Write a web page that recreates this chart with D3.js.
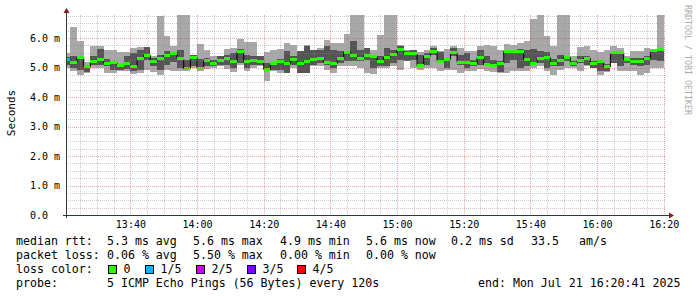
<!DOCTYPE html>
<html>
<head>
<meta charset="utf-8">
<script src="https://cdn.jsdelivr.net/npm/d3@7"></script>
<style>
body { margin: 0; background: #fff; }
svg text { font-family: "DejaVu Sans Mono", monospace; fill: #000; }
</style>
</head>
<body>
<svg id="chart" width="697" height="297"></svg>
<script>

// five pings per step, sorted: pingMin <= pingLow <= median <= pingHigh <= pingMax (ms)
var pingMin = [4.98,4.87,4.76,4.80,5.00,5.00,4.83,4.82,4.87,4.87,4.78,4.81,4.93,4.84,4.76,4.93,4.87,4.87,4.87,4.98,
  4.87,4.95,5.00,5.04,4.95,4.84,5.10,4.87,4.98,5.04,4.53,4.87,4.81,4.80,5.00,4.81,4.81,5.04,5.04,4.93,
  4.81,5.04,5.04,5.04,5.00,4.81,4.78,4.98,4.98,5.04,4.93,5.21,4.98,4.93,4.98,4.98,4.87,4.93,4.93,4.81,
  4.87,4.87,4.95,4.87,4.85,4.81,4.81,4.87,4.87,4.87,4.98,5.04,4.87,4.76,4.93,4.98,4.98,4.87,5.04,4.98,
  4.76,4.84,5.15,4.87,4.87,4.87,4.76,4.81,4.98,4.98];
var pingLow = [5.10,5.00,4.90,4.85,5.10,5.10,5.05,4.90,4.90,4.95,4.87,4.93,5.27,5.04,4.93,5.10,5.20,4.98,4.93,5.04,
  4.93,5.04,5.05,5.10,5.10,4.98,5.15,4.98,5.10,5.10,4.87,4.93,4.93,4.81,5.10,4.82,4.82,5.10,5.15,5.10,
  4.98,5.15,5.21,5.21,5.21,5.27,4.98,5.04,5.04,5.15,5.27,5.22,5.27,5.04,5.10,5.43,5.15,5.00,5.38,5.10,
  4.98,5.04,5.10,5.04,5.04,4.84,5.15,5.27,4.98,5.04,5.10,5.15,4.98,5.04,5.04,5.21,5.04,5.15,5.10,4.99,
  4.87,4.87,5.16,5.04,5.15,5.10,5.04,5.10,5.27,5.21];
var median = [5.27,5.18,5.35,5.03,5.20,5.28,5.15,5.16,5.06,5.12,5.04,5.29,5.41,5.19,5.31,5.41,5.49,5.29,4.96,5.35,
  4.98,5.23,5.15,5.23,5.31,5.19,5.54,5.19,5.24,5.19,4.93,5.15,5.19,5.15,5.27,5.15,5.21,5.27,5.31,5.17,
  5.12,5.30,5.52,5.41,5.30,5.41,5.38,5.21,5.34,5.43,5.60,5.49,5.46,5.06,5.38,5.55,5.21,5.27,5.51,5.17,
  5.17,5.12,5.34,5.10,5.06,5.13,5.54,5.54,5.55,5.27,5.15,5.31,5.34,5.13,5.24,5.34,5.13,5.24,5.32,5.13,
  5.19,5.02,5.51,5.50,5.27,5.21,5.19,5.32,5.58,5.60];
var pingHigh = [5.35,5.38,5.40,5.07,5.40,5.62,5.28,5.20,5.10,5.38,5.50,5.60,5.70,5.32,5.44,5.55,5.51,5.58,5.27,5.44,
  5.29,5.32,5.25,5.38,5.44,5.49,5.62,5.44,5.40,5.40,5.15,5.19,5.29,5.55,5.40,5.55,5.72,5.58,5.58,5.72,
  5.60,5.55,5.55,5.89,5.60,5.66,5.40,5.38,5.66,5.60,5.74,5.55,5.58,5.44,5.49,5.66,5.51,5.32,5.66,5.44,
  5.49,5.27,5.58,5.38,5.27,5.21,5.55,5.60,5.63,5.60,5.63,5.55,5.51,5.29,5.44,5.38,5.21,5.38,5.38,5.21,
  5.21,5.13,5.55,5.55,5.32,5.32,5.32,5.38,5.63,5.60];
var pingMax = [5.49,6.37,5.89,5.20,5.72,5.74,5.58,5.58,5.51,5.51,5.65,5.70,5.70,5.38,6.73,6.08,5.72,6.79,6.79,5.44,
  5.78,5.60,5.38,5.40,5.63,5.66,5.98,5.85,5.85,5.40,5.51,5.58,5.63,5.83,5.77,5.55,5.77,5.60,5.66,5.94,
  5.83,5.83,6.15,6.79,6.79,5.66,5.60,6.11,6.79,6.79,5.77,5.60,5.60,5.51,5.60,5.72,5.55,5.63,5.72,5.66,
  5.55,5.55,5.72,5.77,5.74,5.58,5.80,5.77,5.83,5.89,6.64,6.79,6.08,5.72,6.79,6.79,5.40,5.70,5.72,5.60,
  5.51,5.58,5.72,5.66,5.38,5.55,5.55,5.66,5.63,6.79];
// lost pings out of 5 for each step
var lossCount = [1,0,0,0,0,0,0,0,0,0,0,0,0,0,0,0,0,0,0,0,
  0,0,0,0,0,0,0,0,0,0,0,0,0,0,0,0,0,0,0,0,
  0,0,0,0,0,0,0,0,0,0,0,0,0,0,0,0,0,0,0,0,
  0,0,0,0,0,0,0,0,0,0,0,0,0,0,0,0,0,0,0,0,
  0,0,0,0,0,0,0,0,0,0];

var lossLabels = ["0", "1/5", "2/5", "3/5", "4/5"];
var lossColors = ["#26ff00", "#00b8ff", "#c800ff", "#7e00ff", "#ff0000"];
var yTicks = [0, 1, 2, 3, 4, 5, 6];
var rttStats = ["5.3 ms avg", "5.6 ms max", "4.9 ms min", "5.6 ms now", "0.2 ms sd"];
var lossStats = ["0.06 % avg", "5.50 % max", "0.00 % min", "0.00 % now"];

var svg = d3.select("#chart");

var start = new Date(2025, 6, 21, 13, 20, 41),
    end = new Date(2025, 6, 21, 16, 20, 41);

var x = d3.scaleTime()
    .domain([start, end])
    .range([66, 666]);

var y = d3.scaleLinear()
    .domain([0, 6.78])
    .range([215, 15])
    .clamp(true);

var steps = median.map(function(m, i) {
  var t1 = new Date(2025, 6, 21, 13, 22 + 2 * i, 0);
  var t0 = new Date(+t1 - 120000);
  if (t0 < start) t0 = start;
  return {t0: t0, t1: t1, min: pingMin[i], low: pingLow[i], med: m,
          high: pingHigh[i], max: pingMax[i], loss: lossCount[i]};
});

// smoke
var smoke = svg.append("g").attr("shape-rendering", "crispEdges");

smoke.selectAll(".outer")
  .data(steps)
  .enter().append("rect")
    .attr("x", function(d) { return x(d.t0); })
    .attr("width", function(d) { return x(d.t1) - x(d.t0); })
    .attr("y", function(d) { return y(d.max); })
    .attr("height", function(d) { return y(d.min) - y(d.max); })
    .attr("fill", "#a8a8a8");

smoke.selectAll(".inner")
  .data(steps)
  .enter().append("rect")
    .attr("x", function(d) { return x(d.t0); })
    .attr("width", function(d) { return x(d.t1) - x(d.t0); })
    .attr("y", function(d) { return y(d.high); })
    .attr("height", function(d) { return y(d.low) - y(d.high); })
    .attr("fill", "#555555");

// median step line
var medLine = d3.line()
    .x(function(d) { return x(d.t); })
    .y(function(d) { return y(d.v); })
    .curve(d3.curveStepAfter);

var linePts = steps.map(function(d) { return {t: d.t0, v: d.med}; });
linePts.push({t: steps[steps.length - 1].t1, v: steps[steps.length - 1].med});

svg.append("path")
    .attr("d", medLine(linePts))
    .attr("fill", "none")
    .attr("stroke", "#000")
    .attr("stroke-width", 1);

svg.append("g").attr("shape-rendering", "crispEdges")
  .selectAll("rect")
  .data(steps)
  .enter().append("rect")
    .attr("x", function(d) { return x(d.t0); })
    .attr("width", function(d) { return x(d.t1) - x(d.t0); })
    .attr("y", function(d) { return y(d.med) - 1.5; })
    .attr("height", 3)
    .attr("fill", function(d) { return lossColors[d.loss]; });

// grid on top, like rrdtool
var grid = svg.append("g")
    .attr("shape-rendering", "crispEdges")
    .attr("stroke-dasharray", "1,1");

var minorT = x.ticks(d3.timeMinute.every(5)).filter(function(t) { return t.getMinutes() % 20 != 0; });
var majorT = x.ticks(d3.timeMinute.every(20));

grid.selectAll(".vmin")
  .data(minorT)
  .enter().append("line")
    .attr("x1", function(d) { return Math.round(x(d)) + 0.5; })
    .attr("x2", function(d) { return Math.round(x(d)) + 0.5; })
    .attr("y1", 15).attr("y2", 215)
    .attr("stroke", "rgba(140,140,140,0.45)");

var minorY = d3.range(0.25, 6.76, 0.25).filter(function(v) { return v % 1 != 0; });

grid.selectAll(".hmin")
  .data(minorY)
  .enter().append("line")
    .attr("x1", 66).attr("x2", 666)
    .attr("y1", function(d) { return Math.round(y(d)) + 0.5; })
    .attr("y2", function(d) { return Math.round(y(d)) + 0.5; })
    .attr("stroke", "rgba(140,140,140,0.45)");

grid.selectAll(".vmaj")
  .data(majorT)
  .enter().append("line")
    .attr("x1", function(d) { return Math.round(x(d)) + 0.5; })
    .attr("x2", function(d) { return Math.round(x(d)) + 0.5; })
    .attr("y1", 15).attr("y2", 215)
    .attr("stroke", "rgba(210,60,60,0.45)");

grid.selectAll(".hmaj")
  .data(yTicks.slice(1))
  .enter().append("line")
    .attr("x1", 66).attr("x2", 666)
    .attr("y1", function(d) { return Math.round(y(d)) + 0.5; })
    .attr("y2", function(d) { return Math.round(y(d)) + 0.5; })
    .attr("stroke", "rgba(210,60,60,0.45)");

// axes
var xAxis = svg.append("g")
    .attr("transform", "translate(0,215)")
    .call(d3.axisBottom(x)
      .ticks(d3.timeMinute.every(20))
      .tickFormat(d3.timeFormat("%H:%M"))
      .tickSize(0)
      .tickPadding(6));
xAxis.select(".domain").remove();
xAxis.selectAll("text")
    .attr("font-family", "DejaVu Sans Mono")
    .attr("font-size", 10)
    .attr("fill", "#000");

var yAxis = svg.append("g")
    .attr("transform", "translate(66,0)")
    .call(d3.axisLeft(y)
      .tickValues(yTicks)
      .tickFormat(function(d) { return d == 0 ? "0.0" : d.toFixed(1) + " m"; })
      .tickSize(0));
yAxis.select(".domain").remove();
yAxis.selectAll("text")
    .attr("x", -36)
    .attr("text-anchor", "start")
    .attr("font-family", "DejaVu Sans Mono")
    .attr("font-size", 10)
    .attr("fill", "#000");

svg.append("line")
    .attr("x1", 66.5).attr("x2", 66.5)
    .attr("y1", 12).attr("y2", 218)
    .attr("stroke", "#2c3a36");
svg.append("line")
    .attr("x1", 63).attr("x2", 670)
    .attr("y1", 215.5).attr("y2", 215.5)
    .attr("stroke", "#2c3a36");
svg.append("path")
    .attr("d", "M63.5,13L66.5,8L69.5,13Z")
    .attr("fill", "#8b1a1a");
svg.append("path")
    .attr("d", "M669,212.5L674,215.5L669,218.5Z")
    .attr("fill", "#8b1a1a");

svg.append("text")
    .attr("transform", "translate(15,113) rotate(-90)")
    .attr("text-anchor", "middle")
    .attr("font-size", 11)
    .text("Seconds");

svg.append("text")
    .attr("transform", "translate(685,5) rotate(90)")
    .attr("font-size", 8.3)
    .style("fill", "#aaaaaa")
    .text("RRDTOOL / TOBI OETIKER");

// legend
var legend = svg.append("g").attr("font-size", 11.6);
var cols = [107, 193, 280, 366, 451];

legend.append("text").attr("x", 16).attr("y", 245).text("median rtt:");
legend.selectAll(".rtt")
  .data(rttStats)
  .enter().append("text")
    .attr("x", function(d, i) { return cols[i]; })
    .attr("y", 245)
    .text(function(d) { return d; });
legend.append("text").attr("x", 531).attr("y", 245).text("33.5");
legend.append("text").attr("x", 579).attr("y", 245).text("am/s");

legend.append("text").attr("x", 16).attr("y", 259).text("packet loss:");
legend.selectAll(".loss")
  .data(lossStats)
  .enter().append("text")
    .attr("x", function(d, i) { return cols[i]; })
    .attr("y", 259)
    .text(function(d) { return d; });

legend.append("text").attr("x", 16).attr("y", 273).text("loss color:");
var boxX = [108.5, 145.5, 196.5, 247.5, 297.5];
var items = legend.selectAll(".lc")
  .data(lossLabels)
  .enter().append("g");
items.append("rect")
    .attr("x", function(d, i) { return boxX[i]; })
    .attr("y", 265.5)
    .attr("width", 8).attr("height", 8)
    .attr("fill", function(d, i) { return lossColors[i]; })
    .attr("stroke", "#000")
    .attr("shape-rendering", "crispEdges");
items.append("text")
    .attr("x", function(d, i) { return boxX[i] + 15; })
    .attr("y", 273)
    .text(function(d) { return d; });

legend.append("text").attr("x", 16).attr("y", 287).text("probe:");
legend.append("text").attr("x", 107).attr("y", 287).text("5 ICMP Echo Pings (56 Bytes) every 120s");
legend.append("text").attr("x", 478).attr("y", 287).text("end: Mon Jul 21 16:20:41 2025");

</script>
</body>
</html>
